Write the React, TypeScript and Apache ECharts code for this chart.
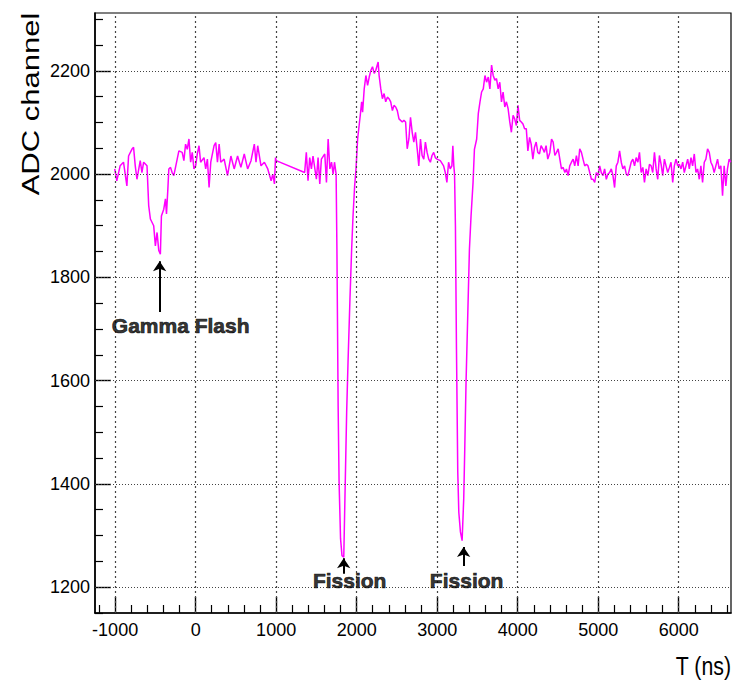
import React, { useEffect, useRef } from "react";
import * as echarts from "echarts";

const timeNs = [
  -1005, -979, -938, -896, -854, -833, -792, -771, -750, -729, -688, -667, -646, -604, -583, -562, -521, -500, -479, -458,
  -438, -425, -396, -375, -362, -346, -333, -312, -292, -271, -229, -208, -167, -146, -125, -104, -83, -62, -42, -21,
  0, 21, 42, 62, 104, 125, 146, 167, 188, 229, 250, 271, 292, 312, 354, 396, 438, 479, 521, 562,
  604, 646, 688, 729, 750, 771, 812, 854, 896, 938, 958, 979, 992, 1000, 1354, 1375, 1396, 1417, 1438, 1458,
  1500, 1521, 1542, 1562, 1604, 1625, 1646, 1667, 1688, 1708, 1725, 1745, 1755, 1770, 1782, 1800, 1818, 1840, 1851, 1876,
  1893, 1917, 1938, 1955, 1975, 1992, 2012, 2045, 2062, 2074, 2094, 2115, 2136, 2156, 2177, 2197, 2218, 2238, 2267, 2279,
  2300, 2320, 2341, 2361, 2382, 2402, 2423, 2444, 2464, 2485, 2505, 2526, 2546, 2567, 2587, 2608, 2628, 2649, 2669, 2690,
  2710, 2731, 2752, 2772, 2793, 2813, 2834, 2854, 2875, 2895, 2916, 2936, 2957, 2977, 2998, 3039, 3080, 3101, 3121, 3142,
  3162, 3183, 3195, 3207, 3216, 3227, 3240, 3256, 3269, 3289, 3310, 3330, 3343, 3359, 3380, 3401, 3421, 3446, 3463, 3491,
  3511, 3532, 3552, 3573, 3594, 3614, 3635, 3655, 3676, 3696, 3717, 3737, 3758, 3778, 3799, 3819, 3840, 3860, 3881, 3902,
  3922, 3943, 3963, 3984, 4004, 4025, 4045, 4066, 4086, 4107, 4127, 4148, 4168, 4189, 4209, 4230, 4250, 4271, 4291, 4312,
  4332, 4353, 4374, 4400, 4421, 4441, 4462, 4483, 4503, 4524, 4544, 4565, 4586, 4606, 4627, 4647, 4668, 4689, 4709, 4730,
  4751, 4771, 4792, 4812, 4833, 4854, 4874, 4895, 4916, 4936, 4957, 4977, 4998, 5019, 5039, 5060, 5080, 5101, 5122, 5142,
  5163, 5184, 5204, 5225, 5245, 5266, 5287, 5307, 5328, 5349, 5369, 5390, 5410, 5431, 5452, 5472, 5493, 5513, 5534, 5555,
  5575, 5596, 5617, 5637, 5658, 5678, 5699, 5720, 5740, 5761, 5782, 5802, 5823, 5843, 5864, 5885, 5905, 5926, 5946, 5967,
  5988, 6008, 6029, 6050, 6070, 6091, 6112, 6132, 6153, 6173, 6194, 6215, 6235, 6256, 6276, 6297, 6318, 6338, 6359, 6380,
  6400, 6421, 6441, 6462, 6483, 6503, 6524, 6545, 6565, 6586, 6606, 6627, 6647,
];

const adc = [
  2010, 1987, 2016, 2023, 1977, 2035, 2048, 2052, 2016, 1990, 2026, 2003, 2023, 2016, 1939, 1913, 1900, 1861, 1887, 1852,
  1845, 1919, 1932, 1952, 1923, 1968, 2010, 2013, 2003, 1997, 2029, 2045, 2042, 2026, 2058, 2048, 2068, 2023, 2042, 2010,
  2016, 2039, 2055, 2023, 2032, 2010, 2029, 1974, 2023, 2055, 2061, 2023, 2058, 2023, 2029, 1997, 2035, 2010, 2035, 2013,
  2039, 2010, 2026, 2058, 2023, 2055, 2016, 2023, 2010, 1987, 2000, 1981, 2032, 2026, 2003, 2042, 1987, 2032, 2010, 2035,
  1990, 2032, 1981, 2029, 2039, 1984, 2068, 2010, 2023, 2000, 2023, 2000, 1855, 1552, 1403, 1294, 1261, 1258, 1345, 1539,
  1636, 1758, 1855, 1919, 1977, 2010, 2068, 2114, 2140, 2120, 2165, 2191, 2172, 2188, 2201, 2208, 2195, 2201, 2217, 2191,
  2165, 2146, 2156, 2140, 2149, 2146, 2140, 2123, 2133, 2130, 2123, 2107, 2104, 2101, 2104, 2101, 2049, 2068, 2110, 2081,
  2062, 2081, 2049, 2016, 2068, 2036, 2029, 2062, 2042, 2029, 2023, 2036, 2042, 2032, 2029, 2026, 2016, 2003, 1984, 2023,
  2010, 2016, 2055, 2016, 2000, 1900, 1661, 1423, 1345, 1307, 1290, 1371, 1468, 1597, 1726, 1855, 1919, 1984, 2048, 2068,
  2117, 2140, 2159, 2165, 2191, 2178, 2188, 2165, 2211, 2191, 2182, 2185, 2165, 2178, 2140, 2159, 2130, 2140, 2127, 2101,
  2081, 2114, 2107, 2094, 2133, 2104, 2101, 2097, 2088, 2088, 2045, 2071, 2058, 2029, 2052, 2062, 2042, 2039, 2055, 2049,
  2042, 2055, 2029, 2042, 2068, 2062, 2036, 2042, 2049, 2029, 2010, 2013, 2003, 2010, 1997, 2016, 2023, 2029, 2016, 2036,
  2016, 2049, 2042, 2029, 2016, 2019, 2016, 2003, 1990, 1990, 1984, 2003, 1997, 2016, 2003, 1997, 2010, 1990, 2000, 2003,
  2010, 1997, 1974, 2016, 2023, 2045, 2023, 2010, 2016, 2000, 1997, 2010, 2023, 2029, 2016, 2032, 2023, 2042, 2003, 2013,
  1984, 2010, 1997, 2019, 2016, 2003, 2042, 2010, 1990, 2036, 2019, 1997, 2029, 2016, 2003, 2013, 2023, 1984, 2016, 2029,
  2016, 2019, 2010, 2023, 2003, 2016, 2029, 2010, 2032, 2016, 2039, 2003, 2010, 1990, 2016, 1984, 2023, 2029, 2049, 2042,
  2023, 2016, 2003, 2016, 2029, 2010, 2016, 1958, 2016, 1977, 2010, 2029, 2023,
];

const xMajorTicks = [-1000, 0, 1000, 2000, 3000, 4000, 5000, 6000];
const xMinorTicks = [
  -1200, -800, -600, -400, -200, 200, 400, 600, 800, 1200, 1400, 1600, 1800, 2200, 2400, 2600, 2800, 3200, 3400, 3600,
  3800, 4200, 4400, 4600, 4800, 5200, 5400, 5600, 5800, 6200, 6400, 6600,
];
const yMajorTicks = [1200, 1400, 1600, 1800, 2000, 2200];
const yMinorTicks = [
  1150, 1250, 1300, 1350, 1450, 1500, 1550, 1650, 1700, 1750, 1850, 1900, 1950, 2050, 2100, 2150, 2250, 2300,
];

const annotationLabels = ["Gamma Flash", "Fission", "Fission"];
const annotationTextX = [-186, 1913, 3366];
const annotationTextY = [1706, 1212, 1212];
const arrowX = [-447, 1839, 3329];
const arrowFrom = [1733, 1226, 1241];
const arrowTo = [1831, 1256, 1278];

const X_MIN = -1250;
const X_MAX = 6650;
const Y_MIN = 1150;
const Y_MAX = 2312;

const SANS = "'Liberation Sans', Arial, Helvetica, sans-serif";

export default function App() {
  const ref = useRef<HTMLDivElement>(null);

  useEffect(() => {
    if (!ref.current) return;
    const chart = echarts.init(ref.current, undefined, { renderer: "svg" });

    const trace = timeNs.map((t, i) => [t, adc[i]]);

    const gridLines = [
      ...xMajorTicks.map((v) => ({ xAxis: v, lineStyle: { type: [2, 3] } })),
      ...yMajorTicks.map((v) => ({ yAxis: v, lineStyle: { type: [1, 2] } })),
    ];

    const arrows = arrowX.map((x, i) => [
      { coord: [x, arrowFrom[i]] },
      { coord: [x, arrowTo[i]] },
    ]);

    const labels = annotationLabels.map((name, i) => ({
      name,
      value: [annotationTextX[i], annotationTextY[i]],
    }));

    const plain = (v: number) => String(v);

    const option: any = {
      animation: false,
      backgroundColor: "#ffffff",
      grid: {
        left: 95,
        right: 2,
        top: 13,
        bottom: 68,
        show: true,
        borderColor: "#000",
        borderWidth: 1.2,
        backgroundColor: "transparent",
      },
      xAxis: [
        {
          type: "value",
          min: X_MIN,
          max: X_MAX,
          position: "bottom",
          axisLine: { show: true, onZero: false, lineStyle: { color: "#000", width: 1.6 } },
          axisTick: {
            show: true,
            inside: true,
            length: 16,
            customValues: xMajorTicks,
            lineStyle: { color: "#000", width: 1.4 },
          },
          axisLabel: {
            show: true,
            customValues: xMajorTicks,
            formatter: plain,
            color: "#000",
            fontSize: 18,
            fontFamily: SANS,
            margin: 8,
          },
          splitLine: { show: false },
        },
        {
          type: "value",
          min: X_MIN,
          max: X_MAX,
          position: "bottom",
          axisLine: { show: false, onZero: false },
          axisTick: {
            show: true,
            inside: true,
            length: 8,
            customValues: xMinorTicks,
            lineStyle: { color: "#000", width: 1.2 },
          },
          axisLabel: { show: false },
          splitLine: { show: false },
        },
      ],
      yAxis: [
        {
          type: "value",
          min: Y_MIN,
          max: Y_MAX,
          position: "left",
          axisLine: { show: true, onZero: false, lineStyle: { color: "#000", width: 1.6 } },
          axisTick: {
            show: true,
            inside: true,
            length: 16,
            customValues: yMajorTicks,
            lineStyle: { color: "#000", width: 1.4 },
          },
          axisLabel: {
            show: true,
            customValues: yMajorTicks,
            formatter: plain,
            color: "#000",
            fontSize: 18,
            fontFamily: SANS,
            margin: 5,
          },
          splitLine: { show: false },
        },
        {
          type: "value",
          min: Y_MIN,
          max: Y_MAX,
          position: "left",
          axisLine: { show: false, onZero: false },
          axisTick: {
            show: true,
            inside: true,
            length: 8,
            customValues: yMinorTicks,
            lineStyle: { color: "#000", width: 1.2 },
          },
          axisLabel: { show: false },
          splitLine: { show: false },
        },
      ],
      graphic: [
        {
          type: "text",
          x: 31,
          y: 104,
          rotation: Math.PI / 2,
          scaleX: 1,
          scaleY: 0.8,
          style: {
            text: "ADC channel",
            font: `31px ${SANS}`,
            fill: "#000",
            align: "center",
            verticalAlign: "middle",
          },
        },
        {
          type: "text",
          x: 731,
          y: 666,
          scaleX: 0.82,
          style: {
            text: "T (ns)",
            font: `26px ${SANS}`,
            fill: "#000",
            align: "right",
            verticalAlign: "middle",
          },
        },
      ],
      series: [
        {
          type: "line",
          xAxisIndex: 0,
          yAxisIndex: 0,
          data: [],
          silent: true,
          z: 1,
          markLine: {
            silent: true,
            symbol: ["none", "none"],
            label: { show: false },
            lineStyle: { color: "#444", width: 1.2 },
            emphasis: { disabled: true },
            data: gridLines,
          },
        },
        {
          name: "ADC",
          type: "line",
          xAxisIndex: 0,
          yAxisIndex: 0,
          data: trace,
          showSymbol: false,
          symbol: "none",
          z: 3,
          lineStyle: { color: "#ff00ff", width: 1.5 },
          itemStyle: { color: "#ff00ff" },
        },
        {
          type: "line",
          xAxisIndex: 0,
          yAxisIndex: 0,
          data: [],
          z: 4,
          itemStyle: { color: "#000" },
          markLine: {
            silent: true,
            symbol: ["none", "arrow"],
            symbolSize: 10,
            label: { show: false },
            itemStyle: { color: "#000" },
            lineStyle: { color: "#000", width: 2, type: "solid" },
            emphasis: { disabled: true },
            data: arrows,
          },
        },
        {
          type: "scatter",
          xAxisIndex: 0,
          yAxisIndex: 0,
          data: labels,
          symbolSize: 0,
          z: 5,
          silent: true,
          label: {
            show: true,
            position: "inside",
            formatter: "{b}",
            color: "#000",
            fontSize: 21,
            fontWeight: "bold",
            fontFamily: SANS,
            textBorderColor: "#000",
            textBorderWidth: 0.7,
          },
        },
      ],
    };

    chart.setOption(option);
    return () => chart.dispose();
  }, []);

  return (
    <div
      ref={ref}
      style={{ position: "absolute", left: 0, top: 0, width: 733, height: 681, background: "#fff" }}
    />
  );
}
